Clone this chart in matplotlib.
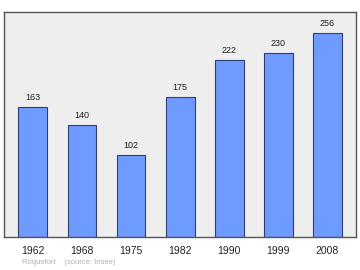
import matplotlib
matplotlib.use('Agg')
import matplotlib.pyplot as plt

years = ['1962', '1968', '1975', '1982', '1990', '1999', '2008']
population = [163, 140, 102, 175, 222, 230, 256]

W, H = 360, 270
fig = plt.figure(figsize=(W / 100, H / 100), dpi=100)
fig.patch.set_facecolor('white')

# frame from x=4..355.6, y=12..236.7 px
ax = fig.add_axes([4 / W, (H - 236.7) / H, 351.6 / W, 224.7 / H])
ax.set_facecolor('#eeeeee')

xs = list(range(len(years)))
ax.bar(xs, population, width=0.59, color='#6f9bff', edgecolor='#2f3f6f', linewidth=0.8, zorder=2)

for x, v in zip(xs, population):
    ax.text(x, v + 12, str(v), ha='center', va='center', fontsize=6.5, color='#222222',
            family='Liberation Sans')

ax.set_xlim(-0.59, 6.58)
ax.set_ylim(0, 282)
ax.set_xticks(xs)
ax.set_xticklabels(years, fontsize=7.5, family='Liberation Sans', color='#222222')
ax.tick_params(axis='x', length=0, pad=7)
ax.set_yticks([])

for side in ax.spines.values():
    side.set_color('#555555')
    side.set_linewidth(1.0)

fig.text(22 / W, 1 - 262 / H, 'Roquefort    (source: Insee)', fontsize=5.5, color='#b0b0b0',
         family='Liberation Sans', va='center', ha='left')

fig.savefig('out.png', dpi=100)
